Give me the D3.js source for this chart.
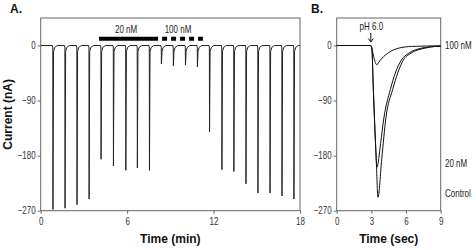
<!DOCTYPE html>
<html>
<head>
<meta charset="utf-8">
<script src="https://cdn.jsdelivr.net/npm/d3@7"></script>
<style>
  body { margin: 0; background: #fff; }
  svg { display: block; }
  .tick text { font-family: "Liberation Sans", Arial, sans-serif; font-size: 10px; fill: #333; }
  .title { font-family: "Liberation Sans", Arial, sans-serif; font-weight: bold; font-size: 12px; fill: #111; }
  .small { font-family: "Liberation Sans", Arial, sans-serif; font-size: 10px; fill: #222; }
</style>
</head>
<body>
<div id="chart"></div>
<script>
// panel A: repeated pH 6.0 pulses (min, nA)
const spikeTimes = [0.85, 1.69, 2.52, 3.36, 4.19, 5.05, 5.91, 6.71, 7.55, 8.38, 9.21,
                    10.05, 10.88, 11.72, 12.58, 13.41, 14.25, 15.08, 15.92, 16.75, 17.58];
const spikePeaks = [-268, -266, -260, -251, -186, -197, -204, -200, -204, -30, -33,
                    -32, -35, -141, -203, -206, -226, -241, -241, -246, -251];
const barLabels = ['20 nM', '100 nM'];
const barStart = [4.05, 7.8];
const barEnd = [7.8, 11.26];
const barDashed = [false, true];

// panel B: single responses (sec, nA)
const controlTrace = [[0, 0], [2.95, 0], [3.05, -6], [3.15, -60], [3.27, -120], [3.42, -185], [3.57, -248],
  [3.9, -185], [4.26, -118], [4.84, -72], [5.28, -45], [5.76, -24], [6.43, -12.5], [7.64, -4.3], [8.5, -1.5], [9, -1]];
const nm20Trace = [[0, 0], [2.95, 0], [3.05, -6], [3.15, -60], [3.27, -120], [3.38, -170], [3.48, -199],
  [3.8, -160], [4.07, -120], [4.64, -72], [5.07, -45], [5.59, -24], [6.23, -12.5], [7.3, -4.5], [8.5, -1.5], [9, -1]];
const nm100Trace = [[0, 0], [2.95, 0], [3.05, -5], [3.2, -18], [3.35, -28], [3.48, -31.5], [3.65, -27],
  [3.92, -20.7], [4.5, -11.5], [5.36, -4.3], [6.5, -1.5], [9, -0.5]];
const traceLabels = ['100 nM', '20 nM', 'Control'];
const traceLabelY = [-5, -198, -248];

const yTicks = [0, -90, -180, -270];
const xTicksA = [0, 6, 12, 18];
const xTicksB = [0, 3, 6, 9];

const W = 476, H = 250;
const NARROW = 0.8; // the figure uses a condensed face
const svg = d3.select('#chart').append('svg').attr('width', W).attr('height', H);

const y = d3.scaleLinear().domain([-270, 45]).range([210.7, 18]);
const xA = d3.scaleLinear().domain([0, 18]).range([40.7, 300]);
const xB = d3.scaleLinear().domain([0, 9]).range([336.7, 440.7]);

function narrowText(parent, x, yy, txt, anchor) {
  return parent.append('text').attr('class', 'small')
    .attr('transform', `translate(${x},${yy}) scale(${NARROW},1)`)
    .attr('text-anchor', anchor || 'start').text(txt);
}

function frame(x) {
  const g = svg.append('g');
  g.append('rect')
    .attr('x', x.range()[0]).attr('y', y.range()[1])
    .attr('width', x.range()[1] - x.range()[0])
    .attr('height', y.range()[0] - y.range()[1])
    .attr('fill', 'none').attr('stroke', '#666').attr('stroke-width', 1);

  const ya = g.append('g').attr('transform', `translate(${x.range()[0]},0)`)
    .call(d3.axisLeft(y).tickValues(yTicks).tickSize(3).tickPadding(2));
  ya.select('.domain').remove();
  ya.selectAll('line').attr('stroke', '#666');
  ya.selectAll('text').attr('transform', `scale(${NARROW},1)`).attr('x', -5 / NARROW);
  return g;
}

function bottomAxis(g, x, ticks) {
  const xa = g.append('g').attr('transform', `translate(0,${y.range()[0]})`)
    .call(d3.axisBottom(x).tickValues(ticks).tickSize(3).tickPadding(4));
  xa.select('.domain').remove();
  xa.selectAll('line').attr('stroke', '#666');
  xa.selectAll('text').attr('transform', `scale(${NARROW},1)`);
}

// ----- panel A -----
const gA = frame(xA);
bottomAxis(gA, xA, xTicksA);

// each pulse: quick drop to the peak, slower return
function spikePoints(t, p) {
  return [[t - 0.03, 0], [t - 0.01, -4], [t, p], [t + 0.04, -10], [t + 0.12, -3], [t + 0.3, 0]];
}
let traceA = [[0, 0]];
spikeTimes.forEach((t, i) => { traceA = traceA.concat(spikePoints(t, spikePeaks[i])); });
traceA.push([18, 0]);

const lineA = d3.line().x(d => xA(d[0])).y(d => y(d[1]));
gA.append('path').datum(traceA)
  .attr('d', lineA).attr('fill', 'none').attr('stroke', '#222').attr('stroke-width', 1);

// drug application bars
barLabels.forEach((lab, i) => {
  gA.append('line')
    .attr('x1', xA(barStart[i])).attr('x2', xA(barEnd[i]))
    .attr('y1', y(11)).attr('y2', y(11))
    .attr('stroke', '#000').attr('stroke-width', 4)
    .attr('stroke-dasharray', barDashed[i] ? '5,4' : null);
  narrowText(gA, xA((barStart[i] + barEnd[i]) / 2), 33, lab, 'middle');
});

svg.append('text').attr('class', 'title').attr('x', 10).attr('y', 13).text('A.');
svg.append('text').attr('class', 'title').attr('x', (xA.range()[0] + xA.range()[1]) / 2).attr('y', 243)
  .attr('text-anchor', 'middle').text('Time (min)');
svg.append('text').attr('class', 'title')
  .attr('transform', `translate(12,${(y.range()[0] + y.range()[1]) / 2}) rotate(-90)`)
  .attr('text-anchor', 'middle').text('Current (nA)');

// ----- panel B -----
const gB = frame(xB);
bottomAxis(gB, xB, xTicksB);

const lineB = d3.line().x(d => xB(d[0])).y(d => y(d[1])).curve(d3.curveMonotoneX);
[nm100Trace, nm20Trace, controlTrace].forEach(tr => {
  gB.append('path').datum(tr)
    .attr('d', lineB).attr('fill', 'none').attr('stroke', '#111').attr('stroke-width', 1);
});

traceLabels.forEach((lab, i) => {
  narrowText(svg, 445, y(traceLabelY[i]), lab);
});

// pH 6.0 marker
narrowText(gB, xB(3), 30, 'pH 6.0', 'middle');
gB.append('path')
  .attr('d', `M${xB(2.95)},33 V42 M${xB(2.95) - 2.5},38.5 L${xB(2.95)},42 L${xB(2.95) + 2.5},38.5`)
  .attr('fill', 'none').attr('stroke', '#111').attr('stroke-width', 1);

svg.append('text').attr('class', 'title').attr('x', 311).attr('y', 13).text('B.');
svg.append('text').attr('class', 'title').attr('x', (xB.range()[0] + xB.range()[1]) / 2).attr('y', 243)
  .attr('text-anchor', 'middle').text('Time (sec)');
</script>
</body>
</html>
